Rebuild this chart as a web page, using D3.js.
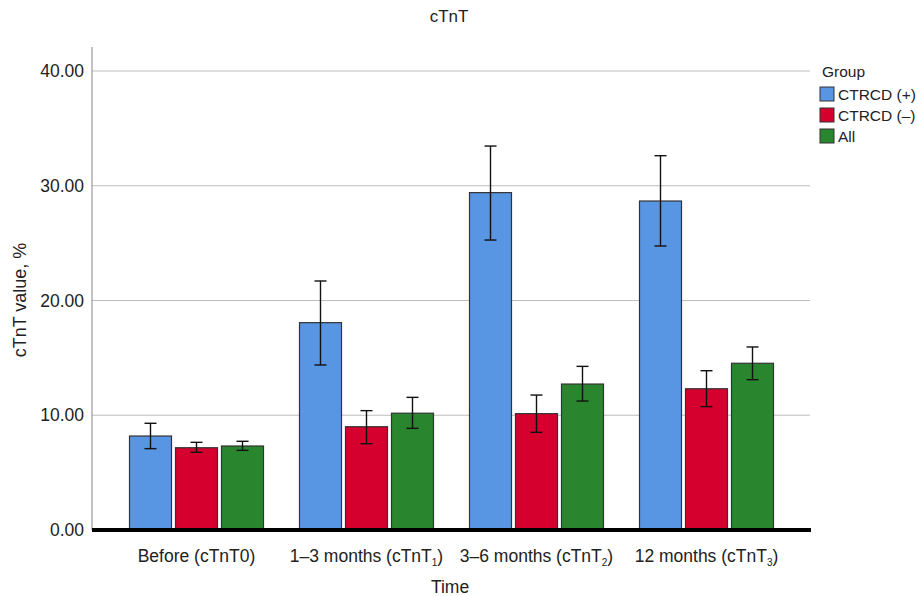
<!DOCTYPE html>
<html><head><meta charset="utf-8">
<script src="https://cdn.jsdelivr.net/npm/d3@7"></script>
<style>body{margin:0;background:#fff;} text{font-family:"Liberation Sans",Arial,sans-serif;}</style>
</head><body><svg id="c" width="917" height="596"></svg>
<script>
const categories = ["Before (cTnT0)", "1–3 months (cTnT1)", "3–6 months (cTnT2)", "12 months (cTnT3)"];
const labelParts = [["Before (cTnT0)", null, ""], ["1–3 months (cTnT", "1", ")"], ["3–6 months (cTnT", "2", ")"], ["12 months (cTnT", "3", ")"]];
const seriesNames = ["CTRCD (+)", "CTRCD (–)", "All"];
const seriesColors = ["#5895e3", "#d6002f", "#2a852f"];
const meanPos = [8.19, 18.07, 29.40, 28.67];
const lowPos = [7.09, 14.38, 25.27, 24.75];
const highPos = [9.30, 21.70, 33.46, 32.62];
const meanNeg = [7.17, 9.00, 10.14, 12.31];
const lowNeg = [6.77, 7.52, 8.51, 10.75];
const highNeg = [7.64, 10.40, 11.76, 13.88];
const meanAll = [7.32, 10.18, 12.72, 14.53];
const lowAll = [6.94, 8.86, 11.24, 13.10];
const highAll = [7.73, 11.56, 14.26, 15.95];
const yTicks = [0, 10, 20, 30, 40];

const means = [meanPos, meanNeg, meanAll], lows = [lowPos, lowNeg, lowAll], highs = [highPos, highNeg, highAll];
const data = [];
categories.forEach((c, i) => seriesNames.forEach((s, j) => data.push({cat: c, ser: s, j, v: means[j][i], lo: lows[j][i], hi: highs[j][i]})));

const svg = d3.select("#c");
const y = d3.scaleLinear().domain([0, 40]).range([530, 71]);
const x0 = d3.scaleBand().domain(categories).range([111.5, 791.5]).padding(0);
const x1 = d3.scaleBand().domain(seriesNames).range([-67, 67]).paddingInner(0.087).paddingOuter(0);
const color = d3.scaleOrdinal().domain(seriesNames).range(seriesColors);

// gridlines
svg.append("g").selectAll("line").data(yTicks.filter(t => t > 0)).join("line")
  .attr("x1", 92).attr("x2", 810).attr("y1", d => y(d)).attr("y2", d => y(d))
  .attr("stroke", "#bdbdbd").attr("stroke-width", 1.2);

// y axis
const yAxis = d3.axisLeft(y).tickValues(yTicks).tickFormat(d3.format(".2f")).tickSize(0).tickPadding(8);
const ga = svg.append("g").attr("transform", "translate(92,0)").call(yAxis);
ga.select(".domain").remove();
ga.selectAll("text").attr("font-size", 17.5).attr("fill", "#222").attr("font-family", "Liberation Sans, Arial");
svg.append("line").attr("x1", 92).attr("x2", 92).attr("y1", 47).attr("y2", 530).attr("stroke", "#999").attr("stroke-width", 1.2);

// bars
const gb = svg.append("g");
gb.selectAll("rect").data(data).join("rect")
  .attr("x", d => x0(d.cat) + x0.bandwidth() / 2 + x1(d.ser))
  .attr("width", x1.bandwidth())
  .attr("y", d => y(d.v)).attr("height", d => y(0) - y(d.v))
  .attr("fill", d => color(d.ser)).attr("stroke", "#333").attr("stroke-width", 1.2);

// error bars
const ge = svg.append("g").attr("stroke", "#111").attr("stroke-width", 1.4);
data.forEach(d => {
  const cx = x0(d.cat) + x0.bandwidth() / 2 + x1(d.ser) + x1.bandwidth() / 2;
  ge.append("line").attr("x1", cx).attr("x2", cx).attr("y1", y(d.hi)).attr("y2", y(d.lo));
  ge.append("line").attr("x1", cx - 6).attr("x2", cx + 6).attr("y1", y(d.hi)).attr("y2", y(d.hi));
  ge.append("line").attr("x1", cx - 6).attr("x2", cx + 6).attr("y1", y(d.lo)).attr("y2", y(d.lo));
});

// baseline
svg.append("line").attr("x1", 92).attr("x2", 811).attr("y1", 530).attr("y2", 530).attr("stroke", "#000").attr("stroke-width", 4);

// x labels
const xl = svg.append("g");
categories.forEach((c, i) => {
  const p = labelParts[i];
  const t = xl.append("text").attr("x", x0(c) + x0.bandwidth() / 2).attr("y", 562)
    .attr("text-anchor", "middle").attr("font-size", 17.5).attr("fill", "#222");
  t.append("tspan").text(p[0]);
  if (p[1]) {
    t.append("tspan").text(p[1]).attr("font-size", 10).attr("dy", 4);
    t.append("tspan").text(p[2]).attr("dy", -4);
  }
});

// titles
svg.append("text").attr("x", 449).attr("y", 22).attr("text-anchor", "middle").attr("font-size", 17).attr("fill", "#222").text("cTnT");
svg.append("text").attr("x", 450).attr("y", 593).attr("text-anchor", "middle").attr("font-size", 17.5).attr("fill", "#222").text("Time");
svg.append("text").attr("transform", "translate(26,300) rotate(-90)").attr("text-anchor", "middle").attr("font-size", 18).attr("fill", "#222").text("cTnT value, %");

// legend
const lg = svg.append("g");
lg.append("text").attr("x", 822).attr("y", 77).attr("font-size", 15.5).attr("fill", "#222").text("Group");
seriesNames.forEach((s, i) => {
  const yy = 87 + i * 21;
  lg.append("rect").attr("x", 820).attr("y", yy).attr("width", 14).attr("height", 14)
    .attr("fill", color(s)).attr("stroke", "#333").attr("stroke-width", 1);
  lg.append("text").attr("x", 838).attr("y", yy + 13).attr("font-size", 15.5).attr("fill", "#222").text(s);
});
</script></body></html>
